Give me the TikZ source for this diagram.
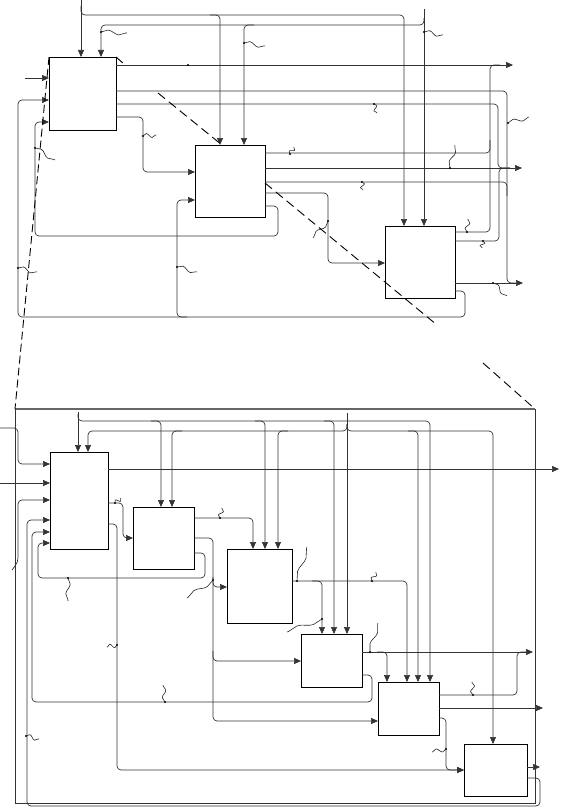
\documentclass[tikz,border=0pt]{standalone}
\usetikzlibrary{arrows.meta,decorations.pathmorphing}
\tikzstyle{arrow} = [-{Triangle[length=7pt,width=6pt]}]

\begin{document}
\begin{tikzpicture}
        [
            x=1pt, y=-1pt,
            box/.style={rectangle,draw=black,line width=0.9pt,anchor=north west,inner sep=0pt,outer sep=0pt},
            wire/.style={draw=black!80,line width=0.7pt,rounded corners=4pt},
            wig/.style={draw=black!85,line width=0.6pt,decorate},
            cut/.style={dash pattern=on 9pt off 5pt,line width=0.9pt},
        ]
    \useasboundingbox (0,0) rectangle (560,808);

    \node[box,minimum width=67pt,minimum height=73pt] (a1) at (49,57) {};
    \node[box,minimum width=70pt,minimum height=72pt] (a2) at (195,145) {};
    \node[box,minimum width=70pt,minimum height=72pt] (a3) at (385,226) {};

    \draw[wire,arrow] (81,0) -- (a1.north -| 81,0);
    \draw[wire,arrow] (81,6) -- (81,15) -- (404,15) -- (a3.north -| 404,0);
    \draw[wire,arrow] (210,15) -- (220,15) -- (a2.north -| 220,0);
    \draw[wire,arrow] (424,9) -- (a3.north -| 424,0);
    \draw[wire,arrow] (424,18) -- (424,25) -- (101,25) -- (a1.north -| 101,0);
    \draw[wire,arrow] (254,25) -- (244,25) -- (a2.north -| 244,0);

    \draw[wire,arrow] (25,78) -- (a1.west |- 0,78);
    \draw[wire,arrow] (a1.east |- 0,65) -- (513,65);
    \draw[wire] (a1.east |- 0,91) -- (507,91) -- (507,283) -- (516,283);
    \draw[wire] (a1.east |- 0,104) -- (498,104) -- (498,168) -- (510,168);
    \draw[wire,arrow] (a1.east |- 0,117) -- (143,117) -- (143,172) -- (a2.west |- 0,172);

    \draw[wire] (a2.east |- 0,153) -- (490,153) -- (490,140);
    \draw[wire,arrow] (a2.east |- 0,168) -- (522,168);
    \draw[wire] (a2.east |- 0,182) -- (507,182) -- (507,196);
    \draw[wire,arrow] (a2.east |- 0,193) -- (328,193) -- (328,263) -- (a3.west |- 0,263);
    \draw[wire,arrow] (a2.east |- 0,206) -- (278,206) -- (278,236) -- (35,236) -- (35,122) -- (a1.west |- 0,122);

    \draw[wire] (a3.east |- 0,232) -- (490,232) -- (490,65) -- (500,65);
    \draw[wire] (a3.east |- 0,241) -- (499,241) -- (499,168) -- (510,168);
    \draw[wire,arrow] (a3.east |- 0,283) -- (523,283);
    \draw[wire,arrow] (a3.east |- 0,291) -- (465,291) -- (465,317) -- (18,317) -- (18,100) -- (a1.west |- 0,100);
    \draw[wire,arrow] (187,317) -- (177,317) -- (177,200) -- (a2.west |- 0,200);

    \draw[black!60,line width=1.4pt] (15,409) -- (535,409);
    \draw[wire,rounded corners=0pt] (15,409) -- (15,803) -- (535,803) -- (535,409);

    \node[box,minimum width=58pt,minimum height=97pt] (b1) at (50,452) {};
    \node[box,minimum width=61pt,minimum height=62pt] (b2) at (133,507) {};
    \node[box,minimum width=65pt,minimum height=74pt] (b3) at (227,549) {};
    \node[box,minimum width=61pt,minimum height=53pt] (b4) at (301,634) {};
    \node[box,minimum width=61pt,minimum height=53pt] (b5) at (378,682) {};
    \node[box,minimum width=63pt,minimum height=52pt] (b6) at (464,744) {};

    \draw[wire,arrow] (78,412) -- (b1.north -| 78,0);
    \draw[wire,arrow] (78,414) -- (78,421) -- (430,421) -- (b5.north -| 430,0);
    \foreach \x/\b in {161/b2,265/b3,334/b4}
        \draw[wire,arrow] (\x-10,421) -- (\x,421) -- (\b.north -| \x,0);
    \draw[wire,arrow] (347,413) -- (b4.north -| 347,0);
    \draw[wire,arrow] (347,424) -- (347,431) -- (88,431) -- (b1.north -| 88,0);
    \draw[wire,arrow] (347,424) -- (347,431) -- (493,431) -- (b6.north -| 493,0);
    \foreach \x/\b in {172/b2,278/b3}
        \draw[wire,arrow] (\x+10,431) -- (\x,431) -- (\b.north -| \x,0);
    \draw[wire,arrow] (408,431) -- (418,431) -- (b5.north -| 418,0);

    \draw[wire,arrow] (0,428) -- (18,428) -- (18,464) -- (b1.west |- 0,464);
    \draw[wire,arrow] (0,483) -- (b1.west |- 0,483);
    \draw[wire,arrow] (12,570) -- (18,562) -- (18,500) -- (b1.west |- 0,500);
    \draw[wire,arrow] (b6.east |- 0,778) -- (540,778) -- (540,806) -- (27,806) -- (27,520) -- (b1.west |- 0,520);
    \draw[wire,arrow] (b4.east |- 0,675) -- (372,675) -- (372,702) -- (32,702) -- (32,532) -- (b1.west |- 0,532);
    \draw[wire,arrow] (b2.east |- 0,553) -- (205,553) -- (205,578) -- (38,578) -- (38,543) -- (b1.west |- 0,543);

    \draw[wire,arrow] (b1.east |- 0,469) -- (559,469);
    \draw[wire,arrow] (b1.east |- 0,503) -- (123,503) -- (123,538) -- (b2.west |- 0,538);
    \draw[wire,arrow] (b1.east |- 0,524) -- (117,524) -- (117,770) -- (b6.west |- 0,770);

    \draw[wire,arrow] (b2.east |- 0,518) -- (253,518) -- (b3.north -| 253,0);
    \draw[wire,arrow] (b2.east |- 0,538) -- (213,538) -- (213,721) -- (b5.west |- 0,721);
    \draw[wire,arrow] (213,577) -- (213,587) -- (b3.west |- 0,587);
    \draw[wire,arrow] (213,651) -- (213,661) -- (b4.west |- 0,661);

    \draw[wire,arrow] (b3.east |- 0,581) -- (407,581) -- (b5.north -| 407,0);
    \draw[wire,arrow] (312,581) -- (322,581) -- (b4.north -| 322,0);

    \draw[wire,arrow] (b4.east |- 0,652) -- (533,652);
    \draw[wire,arrow] (377,652) -- (387,652) -- (b5.north -| 387,0);

    \draw[wire] (b5.east |- 0,695) -- (517,695) -- (517,652) -- (527,652);
    \draw[wire,arrow] (b5.east |- 0,708) -- (543,708);
    \draw[wire,arrow] (b5.east |- 0,718) -- (446,718) -- (446,770) -- (b6.west |- 0,770);

    \draw[wire,arrow] (b6.east |- 0,767) -- (540,767);

    \fill (188,65) circle (1.2pt);
    \foreach \x/\y/\u/\v in {101/32/26/1,244/43/21/3,424/32/19/3,374/104/3/9,508/123/21/-6,
            143/136/13/-1,35/148/20/12,290/154/4/-7,450/168/5/-23,362/182/1/8,328/221/-15/17,
            467/232/1/-13,483/241/-1/7,493/283/14/13,18/268/19/4,177/267/20/5,
            115/503/6/-5,220/518/2/-10,68/578/0/23,213/580/-26/18,117/645/-10/2,297/581/10/-34,
            372/581/4/-9,322/619/-35/13,370/652/8/-29,165/702/-2/-17,26/736/13/3,473/695/-1/-13,
            446/749/-14/3}{
        \pgfmathsetmacro\len{0.85*veclen(\u,\v)}
        \fill (\x,\y) circle (1.2pt);
        \draw[wig,decoration={snake,amplitude=2.2pt,segment length=\len pt}] (\x,\y) -- ++(\u,\v);
    }

    \draw[cut,dash pattern=on 8pt off 4pt] (a1.north west) -- (15,409);
    \draw[cut] (a1.north east) -- (124,64);
    \draw[cut] (158,93) -- (a2.north -| 222,0);
    \draw[cut] (a2.east |- 0,183) -- (437,325);
    \draw[cut] (483,363) -- (535,409);
    \end{tikzpicture}
\end{document}
